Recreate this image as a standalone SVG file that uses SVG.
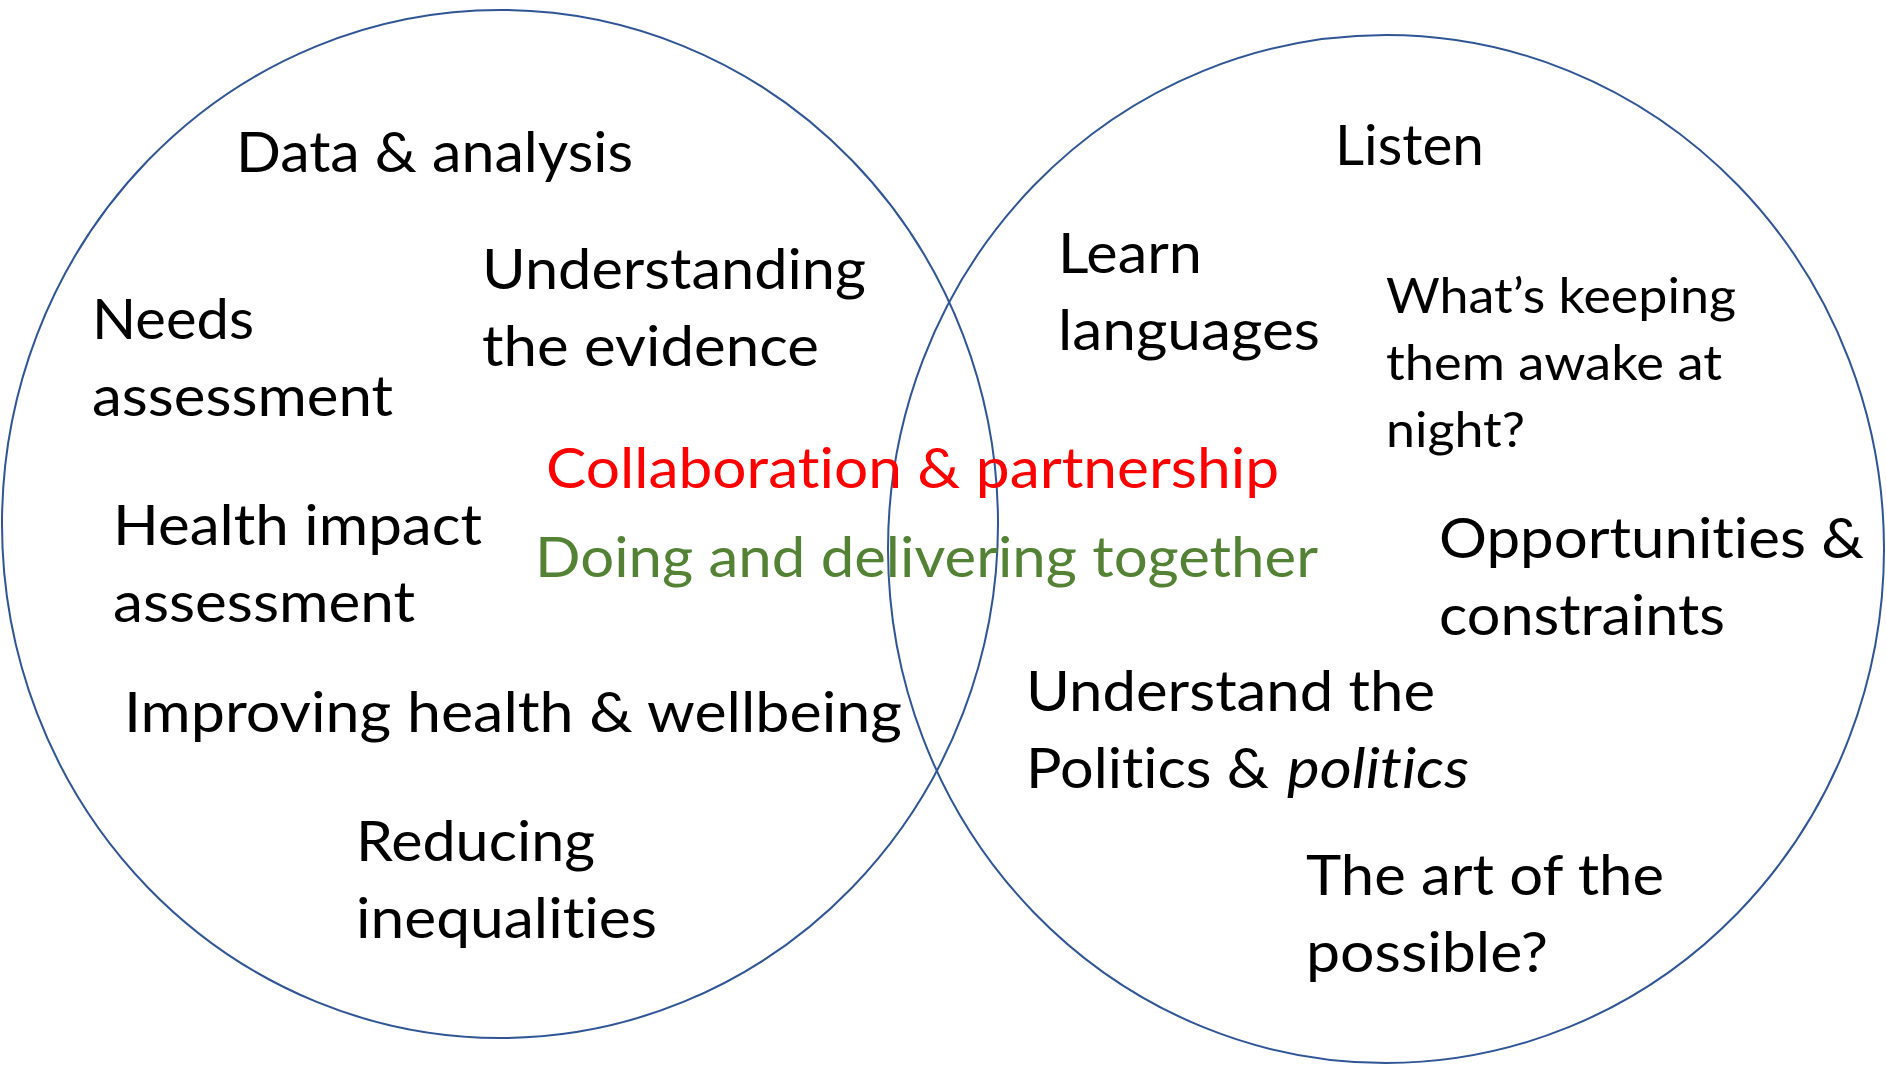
<svg xmlns="http://www.w3.org/2000/svg" width="1886" height="1066" viewBox="0 0 1886 1066">
<style>
.c{fill:none;stroke:#2F5597;stroke-width:2}
text{font-family:Lato,"Noto Sans","Liberation Sans",sans-serif;font-size:56px;fill:#000;font-variant-ligatures:none;font-feature-settings:"liga" 0,"clig" 0,"dlig" 0}
.s{font-size:49px}
.r{fill:#FF0000}
.g{fill:#548235}
.i{font-style:italic}
</style>
<rect width="1886" height="1066" fill="#fff"/>
<g id="connectors"></g>
<g id="circle-left"><ellipse class="c" cx="500" cy="524" rx="498" ry="514"/></g>
<g id="circle-right"><ellipse class="c" cx="1386" cy="549" rx="498" ry="514"/></g>
<g id="data"><text x="236" y="172" textLength="397" lengthAdjust="spacingAndGlyphs">Data &amp; analysis</text></g>
<g id="evidence"><text x="482" y="289" textLength="384" lengthAdjust="spacingAndGlyphs">Understanding</text><text x="482" y="366" textLength="337" lengthAdjust="spacingAndGlyphs">the evidence</text></g>
<g id="needs"><text x="92" y="339" textLength="162" lengthAdjust="spacingAndGlyphs">Needs</text><text x="92" y="416" textLength="301" lengthAdjust="spacingAndGlyphs">assessment</text></g>
<g id="hia"><text x="113" y="545" textLength="369" lengthAdjust="spacingAndGlyphs">Health impact</text><text x="113" y="622" textLength="302" lengthAdjust="spacingAndGlyphs">assessment</text></g>
<g id="collab"><text class="r" x="546" y="488" textLength="733" lengthAdjust="spacingAndGlyphs">Collaboration &amp; partnership</text></g>
<g id="doing"><text class="g" x="535" y="577" textLength="783" lengthAdjust="spacingAndGlyphs">Doing and delivering together</text></g>
<g id="improving"><text x="124" y="732" textLength="778" lengthAdjust="spacingAndGlyphs">Improving health &amp; wellbeing</text></g>
<g id="reducing"><text x="356" y="861" textLength="239" lengthAdjust="spacingAndGlyphs">Reducing</text><text x="356" y="938" textLength="301" lengthAdjust="spacingAndGlyphs">inequalities</text></g>
<g id="listen"><text x="1335" y="165" textLength="149" lengthAdjust="spacingAndGlyphs">Listen</text></g>
<g id="learn"><text x="1058" y="273" textLength="144" lengthAdjust="spacingAndGlyphs">Learn</text><text x="1058" y="350" textLength="262" lengthAdjust="spacingAndGlyphs">languages</text></g>
<g id="awake"><text class="s" x="1386" y="313" textLength="350" lengthAdjust="spacingAndGlyphs">What’s keeping</text><text class="s" x="1386" y="380" textLength="336" lengthAdjust="spacingAndGlyphs">them awake at</text><text class="s" x="1386" y="447" textLength="139" lengthAdjust="spacingAndGlyphs">night?</text></g>
<g id="opps"><text x="1439" y="558" textLength="425" lengthAdjust="spacingAndGlyphs">Opportunities &amp;</text><text x="1439" y="635" textLength="286" lengthAdjust="spacingAndGlyphs">constraints</text></g>
<g id="politics"><text x="1026" y="711" textLength="409" lengthAdjust="spacingAndGlyphs">Understand the</text><text x="1026" y="788" textLength="243" lengthAdjust="spacingAndGlyphs">Politics &amp;</text><text class="i" x="1287" y="788" textLength="182" lengthAdjust="spacingAndGlyphs">politics</text></g>
<g id="art"><text x="1306" y="895" textLength="358" lengthAdjust="spacingAndGlyphs">The art of the</text><text x="1306" y="972" textLength="242" lengthAdjust="spacingAndGlyphs">possible?</text></g>
</svg>
